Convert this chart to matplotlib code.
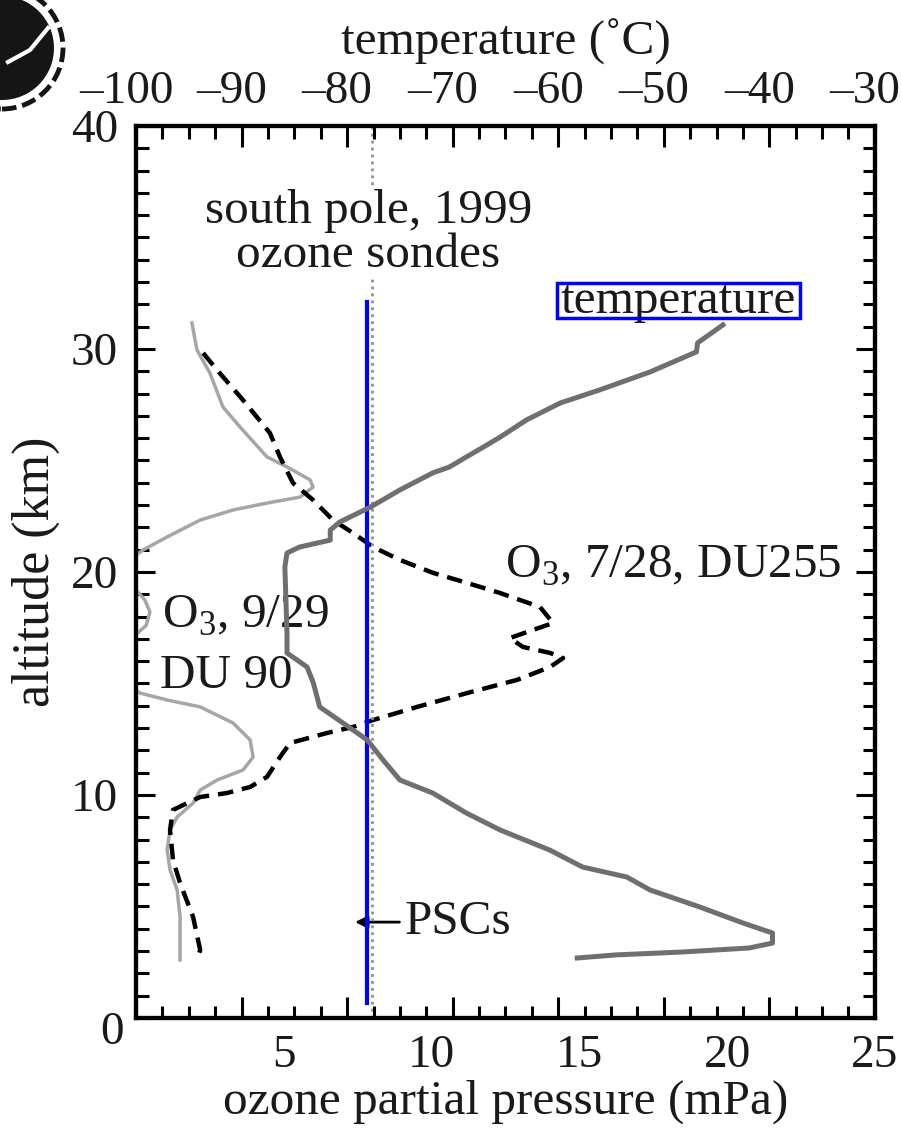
import matplotlib
matplotlib.use("Agg")
import matplotlib.pyplot as plt
from matplotlib.patches import Rectangle, Ellipse
from matplotlib.lines import Line2D
from matplotlib.ticker import MultipleLocator
from matplotlib.transforms import ScaledTranslation

plt.rcParams['font.family'] = ['Liberation Serif', 'DejaVu Serif']
plt.rcParams['mathtext.fontset'] = 'custom'
plt.rcParams['mathtext.rm'] = 'Liberation Serif'

# temperature profile (deg C vs km)
temp_c = [-44.4, -46.8, -46.9, -51.3, -56.1, -59.8, -63.0, -65.5, -67.1, -68.7,
          -70.3, -71.9, -75.0, -77.8, -80.7, -81.6, -81.6, -84.5, -85.7, -85.9,
          -85.7, -85.7, -83.8, -83.2, -82.6, -80.4, -78.1, -76.6, -75.0, -71.9,
          -68.7, -65.5, -60.8, -57.7, -53.5, -51.3, -46.6, -42.5, -39.7, -39.7,
          -41.9, -48.2, -54.5, -58.2]
temp_alt = [31.08, 30.27, 29.87, 28.97, 28.16, 27.58, 26.82, 26.05, 25.6, 25.16,
            24.71, 24.44, 23.68, 22.91, 22.24, 21.88, 21.43, 21.12, 20.85, 20.22,
            17.26, 16.37, 15.74, 15.02, 13.95, 13.23, 12.47, 11.57, 10.67, 10.09,
            9.19, 8.43, 7.53, 6.77, 6.32, 5.74, 4.98, 4.26, 3.81, 3.36,
            3.14, 2.96, 2.83, 2.69]

# ozone 7/28 (DU255)
o3_jul = [2.27, 2.74, 3.62, 4.53, 4.87, 5.31, 5.99, 6.66, 7.34, 8.02,
          8.93, 10.05, 11.20, 12.31, 13.67, 14.11, 13.43, 12.65, 13.09, 14.01,
          14.45, 14.01, 12.89, 11.20, 9.51, 8.02, 7.34, 6.46, 5.21, 4.87,
          4.43, 3.86, 3.08, 2.17, 1.25, 1.15, 1.25, 1.49, 1.93, 2.17, 2.06]
o3_jul_alt = [29.82, 29.06, 27.71, 26.23, 25.16, 23.99, 23.23, 22.33, 21.75, 21.12,
              20.54, 19.96, 19.51, 19.06, 18.43, 17.71, 17.40, 17.04, 16.64, 16.37,
              16.14, 15.74, 15.16, 14.57, 13.95, 13.36, 13.05, 12.78, 12.33, 11.70,
              10.81, 10.36, 10.09, 9.91, 9.33, 8.43, 7.09, 6.05, 4.53, 3.05, 2.60]

# ozone 9/29 (DU 90)
o3_sep = [1.89, 2.06, 2.50, 2.94, 3.52, 4.43, 5.11, 5.89, 5.99, 5.55,
          4.43, 3.28, 2.17, 1.05, 0.24, 0.0, 0.0, 0.30, 0.47, 0.34,
          0.0, 0.0, 0.14, 1.05, 2.17, 3.28, 3.86, 3.96, 3.62, 2.74,
          2.17, 1.93, 1.39, 1.15, 1.05, 1.15, 1.39, 1.49, 1.49]
o3_sep_alt = [31.17, 29.96, 28.92, 27.40, 26.50, 25.16, 24.71, 24.13, 23.81, 23.36,
              23.09, 22.78, 22.33, 21.57, 20.99, 20.76, 19.2, 18.74, 18.2, 17.6,
              17.2, 14.7, 14.57, 14.26, 13.95, 13.23, 12.47, 11.70, 11.12, 10.67,
              10.22, 9.64, 9.01, 8.43, 7.53, 6.64, 5.74, 4.53, 2.60]

psc_temp = -77.6
x_ticks = [0, 5, 10, 15, 20, 25]
x_labels = ['', '5', '10', '15', '20', '25']
t_ticks = [-100, -90, -80, -70, -60, -50, -40, -30]
t_labels = ['–100', '–90', '–80', '–70', '–60', '–50', '–40', '–30']
y_ticks = [0, 10, 20, 30, 40]
y_labels = ['', '10', '20', '30', '40']

fs = 34     # tick labels
fl = 35.5   # axis labels and notes
ink = '#1a1a1a'

fig = plt.figure(figsize=(9.01, 11.34), dpi=100)
ax = fig.add_axes([0.151, 0.1023, 0.820, 0.7866])
ax.set_xlim(0, 25)
ax.set_ylim(0, 40)
axt = ax.twiny()
axt.set_xlim(-100, -30)

for a in (ax, axt):
    for s in a.spines.values():
        s.set_linewidth(3)
        s.set_color('black')

ax.set_xticks(x_ticks)
ax.set_xticklabels(x_labels)
ax.tick_params(axis='x', which='both', length=0, pad=12, labelsize=fs, labelcolor=ink)
ax.set_yticks(y_ticks)
ax.set_yticklabels(y_labels)
ax.yaxis.set_minor_locator(MultipleLocator(1))
ax.tick_params(axis='y', which='both', direction='in', left=True, right=True,
               labelsize=fs, labelcolor=ink, pad=13, width=2.2)
ax.tick_params(axis='y', which='major', length=14)
ax.tick_params(axis='y', which='minor', length=9)

axt.set_xticks(t_ticks)
axt.set_xticklabels(t_labels)
axt.xaxis.set_minor_locator(MultipleLocator(2.5))
axt.tick_params(axis='x', which='both', direction='in', top=True, bottom=True,
                labeltop=True, labelbottom=False, labelsize=fs, labelcolor=ink,
                pad=9, width=2.2)
axt.tick_params(axis='x', which='major', length=15)
axt.tick_params(axis='x', which='minor', length=9)
shift = ScaledTranslation(-10 / 100, 0, fig.dpi_scale_trans)
for lab in axt.get_xticklabels():
    lab.set_transform(lab.get_transform() + shift)

ax.set_xlabel('ozone partial pressure (mPa)', fontsize=fl, color=ink, labelpad=2)
ax.set_ylabel('altitude (km)', fontsize=fl + 2, color=ink, labelpad=8)
axt.set_xlabel('temperature (˚C)', fontsize=fl, color=ink, labelpad=12)

# curves
ax.plot(o3_sep, o3_sep_alt, color='#a6a6a6', lw=2.5, zorder=3)
ax.plot(o3_jul, o3_jul_alt, color='black', lw=3.2, ls=(0, (3.5, 2)), zorder=4)
axt.plot(temp_c, temp_alt, color='#6f6f6f', lw=3.6, zorder=3)
axt.axvline(psc_temp, color='#909090', lw=2, ls=(0, (1, 1.5)), zorder=1)

# labels
axt.text(-78.0, 35.2, 'south pole, 1999\nozone sondes', fontsize=fl, color=ink,
         ha='center', va='center', linespacing=1.0,
         bbox=dict(facecolor='white', edgecolor='none', pad=1), zorder=5)
ax.text(18.35, 32.15, 'temperature', fontsize=fl, color=ink, ha='center', va='center')
ax.add_patch(Rectangle((14.24, 31.39), 8.22, 1.57, fill=False, edgecolor='#0000ff',
                       lw=2.5, zorder=6))
ax.text(12.48, 19.73, r'O$_\mathregular{3}$, 7/28, DU255', fontsize=fl, color=ink,
        ha='left', va='baseline')
ax.text(0.88, 17.49, r'O$_\mathregular{3}$, 9/29', fontsize=fl, color=ink,
        ha='left', va='baseline')
ax.text(0.81, 14.8, 'DU 90', fontsize=fl, color=ink, ha='left', va='baseline')
ax.annotate('PSCs', xy=(7.41, 4.3), xytext=(9.1, 4.3), fontsize=fl, color=ink,
            ha='left', va='center',
            arrowprops=dict(arrowstyle='-|>', color='black', lw=2,
                            mutation_scale=18, shrinkA=2, shrinkB=0))
ax.plot([7.81, 7.81], [0.67, 32.1], color='#0000ff', lw=3, zorder=7)

fig.text(112 / 901, 1 - 1033 / 1134, '0', fontsize=fs, color=ink,
         ha='center', va='center')

# logo in the corner
fig.patches.append(Ellipse((2 / 901, 1 - 48 / 1134), 104 / 901, 104 / 1134,
                           transform=fig.transFigure, facecolor='#151515',
                           edgecolor='none', figure=fig))
fig.patches.append(Ellipse((2 / 901, 1 - 48 / 1134), 122 / 901, 122 / 1134,
                           transform=fig.transFigure, facecolor='none',
                           edgecolor='#151515', lw=3.5, ls=(0, (3, 1.2)), figure=fig))
fig.add_artist(Line2D([48 / 901, 30 / 901, 8 / 901],
                      [1 - 28 / 1134, 1 - 50 / 1134, 1 - 62 / 1134],
                      transform=fig.transFigure, color='white', lw=3))

fig.savefig('out.png', dpi=100)
